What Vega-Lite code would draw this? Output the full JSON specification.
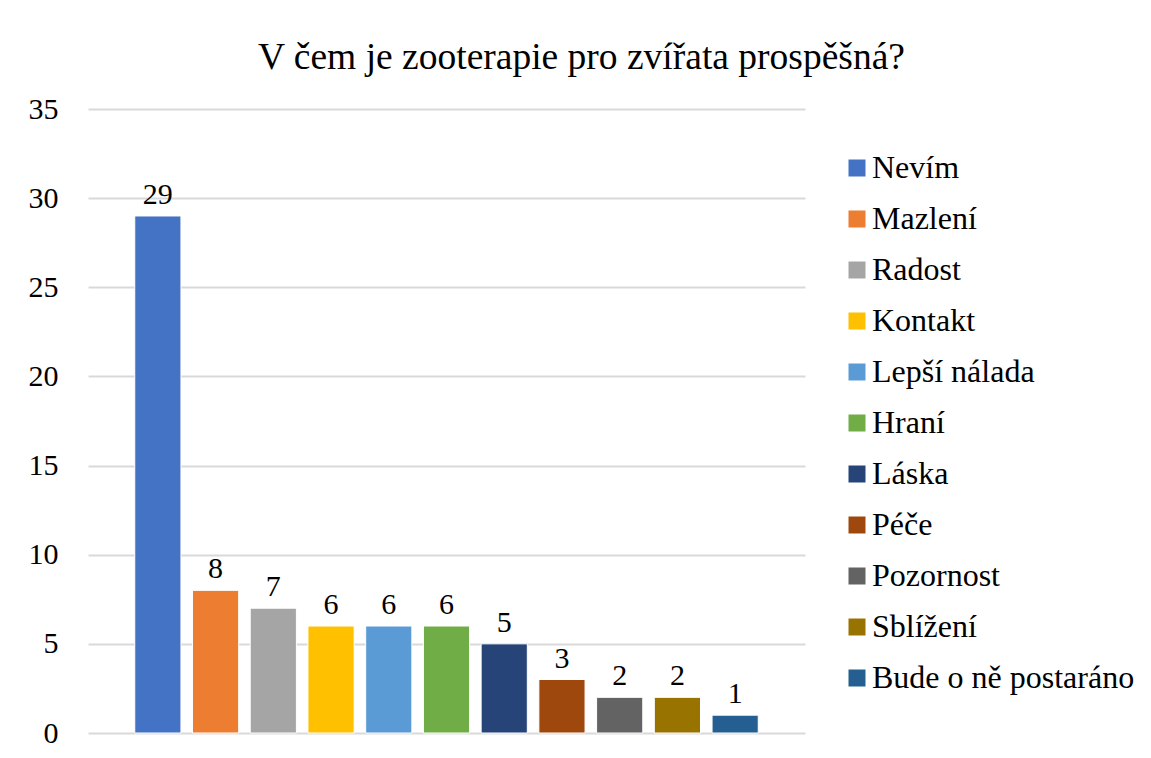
{
  "$schema": "https://vega.github.io/schema/vega-lite/v6.json",
  "width": 717,
  "height": 624,
  "padding": {"left": 28, "top": 39, "right": 5, "bottom": 5},
  "background": "white",
  "title": {"text": "V čem je zooterapie pro zvířata prospěšná?", "font": "Times New Roman", "fontSize": 37.5, "fontWeight": "normal", "color": "#000000", "anchor": "middle", "frame": "bounds", "offset": 17.5},
  "data": {"values": [
    {"kategorie": "Nevím", "pocet": 29},
    {"kategorie": "Mazlení", "pocet": 8},
    {"kategorie": "Radost", "pocet": 7},
    {"kategorie": "Kontakt", "pocet": 6},
    {"kategorie": "Lepší nálada", "pocet": 6},
    {"kategorie": "Hraní", "pocet": 6},
    {"kategorie": "Láska", "pocet": 5},
    {"kategorie": "Péče", "pocet": 3},
    {"kategorie": "Pozornost", "pocet": 2},
    {"kategorie": "Sblížení", "pocet": 2},
    {"kategorie": "Bude o ně postaráno", "pocet": 1}
  ]},
  "encoding": {
    "x": {"field": "kategorie", "type": "nominal", "sort": null, "axis": null,
          "scale": {"paddingInner": 0.2, "paddingOuter": 0.81}},
    "y": {"field": "pocet", "type": "quantitative",
          "scale": {"domain": [0, 35]},
          "axis": {"title": null, "values": [0, 5, 10, 15, 20, 25, 30, 35], "domain": false, "ticks": false,
                   "labelFont": "Times New Roman", "labelFontSize": 30, "labelColor": "#000000", "labelPadding": 30,
                   "gridColor": "#d9d9d9", "gridWidth": 2}}
  },
  "layer": [
    {"mark": {"type": "bar", "stroke": "white", "strokeWidth": 1},
     "encoding": {
       "color": {"field": "kategorie", "type": "nominal", "sort": null,
                 "scale": {"domain": ["Nevím", "Mazlení", "Radost", "Kontakt", "Lepší nálada", "Hraní", "Láska", "Péče", "Pozornost", "Sblížení", "Bude o ně postaráno"],
                           "range": ["#4472C4", "#ED7D31", "#A5A5A5", "#FFC000", "#5B9BD5", "#70AD47", "#264478", "#9E480E", "#636363", "#997300", "#255E91"]},
                 "legend": {"title": null, "orient": "none", "legendX": 753, "legendY": 43,
                            "symbolType": "square", "symbolSize": 289, "symbolStrokeWidth": 0,
                            "labelFont": "Times New Roman", "labelFontSize": 32, "labelColor": "#000000",
                            "rowPadding": 19, "labelLimit": 400, "labelOffset": -1}}
     }},
    {"mark": {"type": "text", "baseline": "bottom", "dy": -6, "font": "Times New Roman", "fontSize": 30, "color": "#000000"},
     "encoding": {"text": {"field": "pocet", "type": "quantitative"}}}
  ],
  "config": {"view": {"stroke": null}}
}
